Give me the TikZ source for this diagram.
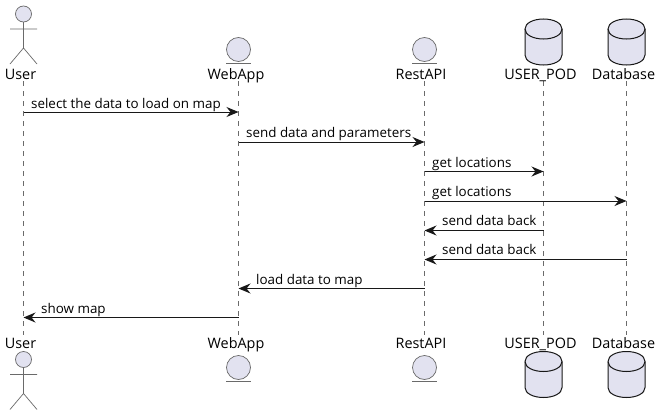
\documentclass[tikz,border=0pt]{standalone}
\usepackage{fontspec}
\setmainfont{Open Sans}
\usetikzlibrary{arrows.meta}
\definecolor{pfill}{HTML}{E2E2F0}
\definecolor{pline}{HTML}{181818}
\definecolor{pthin}{HTML}{6A6A6A}
\tikzset{
  x=1pt,y=-1pt,
  shapeline/.style={draw=pthin,fill=pfill,line width=.7pt},
  dbline/.style={draw=pline,fill=pfill,line width=1pt},
  life/.style={draw=pthin,line width=.6pt,dash pattern=on 5pt off 5pt},
  msg/.style={draw=pline,line width=1pt,-{Stealth[length=12pt,width=10pt,inset=4pt]}},
  ptext/.style={anchor=base,font=\fontsize{14.4}{16}\selectfont,inner sep=0pt,text=black},
  mtext/.style={anchor=base west,font=\fontsize{13.4}{15}\selectfont,inner sep=0pt,text=black},
  pics/actorfig/.style={code={
    \draw[shapeline] (0,0) circle[radius=8];
    \draw[draw=pthin,line width=.7pt] (0,8) -- (0,34) (-13.5,15) -- (13.5,15) (-13.5,50) -- (0,34) -- (13.5,50);
  }},
  pics/entityfig/.style={code={
    \draw[shapeline] (0,0) circle[radius=12];
    \draw[draw=pthin,line width=.7pt] (-12.5,13.5) -- (12.5,13.5);
  }},
  pics/dbfig/.style={code={
    \draw[dbline] (-18.5,10) .. controls (-18.5,4) and (-10,0) .. (0,0) .. controls (10,0) and (18.5,4) .. (18.5,10)
      -- (18.5,36) .. controls (18.5,42) and (10,46) .. (0,46) .. controls (-10,46) and (-18.5,42) .. (-18.5,36) -- cycle;
    \draw[draw=pline,line width=1pt] (-18.5,10) .. controls (-18.5,16) and (-10,20) .. (0,20) .. controls (10,20) and (18.5,16) .. (18.5,10);
  }}
}
\begin{document}
\begin{tikzpicture}
\useasboundingbox (0,0) rectangle (661,415);
\fill[white] (0,0) rectangle (661,415);
% lifelines
\foreach \n/\x in {user/23.5,web/238.5,rest/424.5,pod/543.5,db/626.5}{
  \coordinate (\n T) at (\x,81);
  \coordinate (\n B) at (\x,335);
  \draw[life] (\n T) -- (\n B);
}
% participants top
\pic at (23.5,14) {actorfig};
\pic at (238.5,49.5) {entityfig};
\pic at (424.5,49.5) {entityfig};
\pic at (543.5,19) {dbfig};
\pic at (626.5,19) {dbfig};
\node[ptext] (userT) at (20.5,79) {User};
\node[ptext] (webT) at (236,79) {WebApp};
\node[ptext] (restT) at (421,79) {RestAPI};
\node[ptext] (podT) at (540.5,79) {USER\_POD};
\node[ptext] (dbT) at (623.5,79) {Database};
% participants bottom
\node[ptext] (userB) at (20.5,348) {User};
\node[ptext] (webB) at (236,348) {WebApp};
\node[ptext] (restB) at (421,348) {RestAPI};
\node[ptext] (podB) at (540.5,348) {USER\_POD};
\node[ptext] (dbB) at (623.5,348) {Database};
\pic at (23.5,359.5) {actorfig};
\pic at (238.5,367.5) {entityfig};
\pic at (424.5,367.5) {entityfig};
\pic at (543.5,351.5) {dbfig};
\pic at (626.5,351.5) {dbfig};
% messages
\foreach \nm/\x/\y in {a/23.5/112,b/238.5/112,c/238.5/142,d/424.5/142,e/424.5/171.5,f/543.5/171.5,g/424.5/201,h/626.5/201,i/543.5/230.5,j/424.5/230.5,k/626.5/259.5,l/424.5/259.5,m/424.5/288.5,n/238.5/288.5,o/238.5/317.5,p/23.5/317.5}{
  \coordinate (\nm) at (\x,\y);
}
\draw[msg] (a) -- (b);
\draw[msg] (c) -- (d);
\draw[msg] (e) -- (f);
\draw[msg] (g) -- (h);
\draw[msg] (i) -- (j);
\draw[msg] (k) -- (l);
\draw[msg] (m) -- (n);
\draw[msg] (o) -- (p);
\node[mtext] (t1) at (31,108) {select the data to load on map};
\node[mtext] (t2) at (246,137.5) {send data and parameters};
\node[mtext] (t3) at (432,167) {get locations};
\node[mtext] (t4) at (432,196.5) {get locations};
\node[mtext] (t5) at (442,225.5) {send data back};
\node[mtext] (t6) at (442,254.5) {send data back};
\node[mtext] (t7) at (256,284.5) {load data to map};
\node[mtext] (t8) at (41,313.5) {show map};
\end{tikzpicture}
\end{document}
